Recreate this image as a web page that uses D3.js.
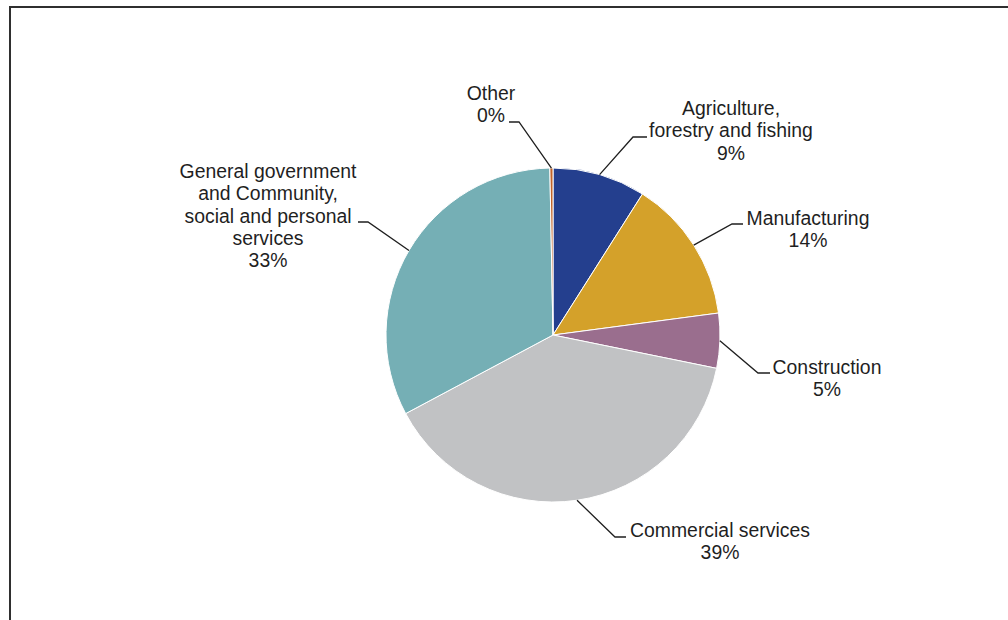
<!DOCTYPE html>
<html>
<head>
<meta charset="utf-8">
<script src="https://cdn.jsdelivr.net/npm/d3@7"></script>
<style>
  html, body { margin: 0; padding: 0; background: #fff; }
  svg { display: block; }
</style>
</head>
<body>
<script>
// Share of employment by sector (%), clockwise from 12 o'clock
const categories = [
  "Agriculture,\nforestry and fishing",
  "Manufacturing",
  "Construction",
  "Commercial services",
  "General government\nand Community,\nsocial and personal\nservices",
  "Other"
];
const shares = [9.0, 13.9, 5.3, 39.0, 32.5, 0.3];
const colors = ["#243f8e", "#d4a12a", "#9a6e8e", "#c1c2c4", "#75afb5", "#c0642a"];

const W = 1008, H = 620;
const cx = 553, cy = 335, R = 167;
const lineHeight = 22.3;

// Leader elbow, end of the horizontal run, text centre and first baseline per label
const labelLayout = [
  { elbow: [633, 137], end: 647, tx: 731, ty: 115 },
  { elbow: [732, 224], end: 743, tx: 808, ty: 225 },
  { elbow: [758, 373], end: 770, tx: 827, ty: 374 },
  { elbow: [615, 537], end: 626, tx: 720, ty: 537 },
  { elbow: [368, 222], end: 358, tx: 268, ty: 178 },
  { elbow: [519, 122], end: 509, tx: 491, ty: 100 }
];

const data = categories.map((c, i) => ({ name: c, value: shares[i], color: colors[i], layout: labelLayout[i] }));

const svg = d3.select("body").append("svg")
  .attr("width", W).attr("height", H);

// chart frame (runs off the right and bottom edges)
svg.append("path")
  .attr("d", `M10,${H + 5} L10,7 L${W + 5},7`)
  .attr("fill", "none")
  .attr("stroke", "#2f2f2f")
  .attr("stroke-width", 2);

const pie = d3.pie().sort(null).value(d => d.value).startAngle(0).endAngle(2 * Math.PI);
const arc = d3.arc().innerRadius(0).outerRadius(R);
const arcs = pie(data);

const g = svg.append("g").attr("transform", `translate(${cx},${cy})`);
g.selectAll("path.slice")
  .data(arcs)
  .join("path")
  .attr("class", "slice")
  .attr("d", arc)
  .attr("fill", d => d.data.color)
  .attr("stroke", "#ffffff")
  .attr("stroke-width", 1);

// leader lines from each slice's outer mid-point
const leaders = svg.append("g");
arcs.forEach(d => {
  const a = (d.startAngle + d.endAngle) / 2;
  const sx = cx + R * Math.sin(a), sy = cy - R * Math.cos(a);
  const L = d.data.layout;
  leaders.append("polyline")
    .attr("points", `${sx},${sy} ${L.elbow[0]},${L.elbow[1]} ${L.end},${L.elbow[1]}`)
    .attr("fill", "none")
    .attr("stroke", "#1f1f1f")
    .attr("stroke-width", 1.3);
});

// category + percentage labels
const labels = svg.append("g")
  .attr("font-family", "'Liberation Sans', Arial, Helvetica, sans-serif")
  .attr("font-size", 19.4)
  .attr("fill", "#1f1f1f")
  .attr("text-anchor", "middle");

arcs.forEach(d => {
  const L = d.data.layout;
  const lines = d.data.name.split("\n").concat([Math.round(d.data.value) + "%"]);
  const t = labels.append("text");
  lines.forEach((ln, i) => {
    t.append("tspan")
      .attr("x", L.tx)
      .attr("y", L.ty + i * lineHeight)
      .text(ln);
  });
});
</script>
</body>
</html>
